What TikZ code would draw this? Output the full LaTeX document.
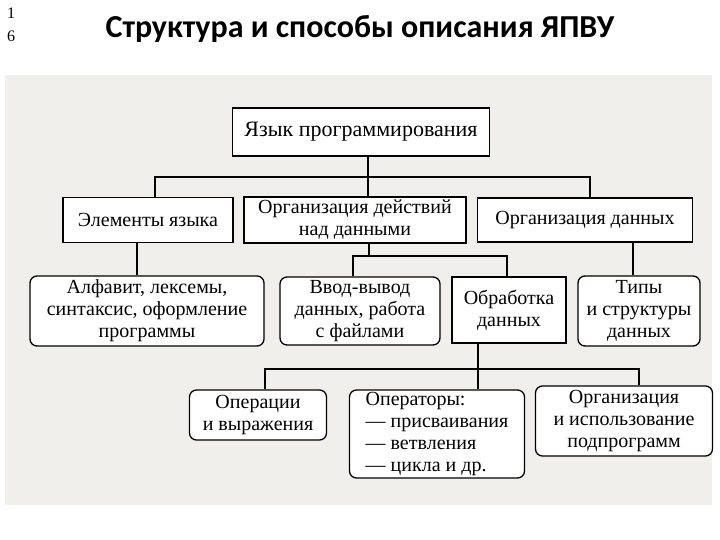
\documentclass[tikz,border=0pt]{standalone}
\usepackage{fontspec}
\setmainfont{Liberation Serif}
\newfontfamily\titlefont{Carlito}
\usepackage{tikz}
\usetikzlibrary{calc}
\usepackage{xcolor}
\definecolor{scan}{RGB}{241,239,236}
\tikzset{
  box/.style={draw, line width=1.3pt, fill=white, align=center, inner sep=0pt,
    font=\fontsize{20}{22}\selectfont},
  rbox/.style={box, rounded corners=7pt},
  link/.style={line width=1.1pt}
}

\begin{document}
\begin{tikzpicture}[x=1pt, y=1pt]
  \def\rowb{-220}
  \def\rowc{-311}
  \def\busa{-177}
  \def\busb{-256}
  \def\busc{-369}

  \useasboundingbox (0, 0) rectangle (720, -540);
  \fill[scan] (5, -75) rectangle (712, -505);

  \node[font=\titlefont\bfseries\fontsize{32}{35}\selectfont] (title) at (360, -29) {Структура и способы описания ЯПВУ};
  \node[font=\fontsize{16}{17}\selectfont] (num1) at (11, -13) {1};
  \node[font=\fontsize{16}{17}\selectfont] (num2) at (11, -36) {6};

  \node[box, minimum width=257, minimum height=48, font=\fontsize{22}{24}\selectfont] (lang) at (361, -132) {Язык программирования};

  \node[box, minimum width=170, minimum height=45] (elem) at (148, \rowb) {Элементы языка};
  \node[box, minimum width=222, minimum height=46] (acts) at (355, \rowb) {Организация действий\\над данными};
  \node[box, minimum width=215, minimum height=44] (data) at (585, \rowb) {Организация данных};

  \node[rbox, minimum width=234, minimum height=70] (alpha) at (147, \rowc) {Алфавит, лексемы,\\синтаксис, оформление\\программы};
  \node[rbox, minimum width=160, minimum height=68] (io) at (360, \rowc) {Ввод-вывод\\данных, работа\\с файлами};
  \node[box, minimum width=114, minimum height=66] (proc) at (509, -310) {Обработка\\данных};
  \node[rbox, minimum width=122, minimum height=70] (types) at (639, \rowc) {Типы\\и структуры\\данных};

  \node[rbox, minimum width=137, minimum height=50] (ops) at (258, -415) {Операции\\и выражения};
  \node[rbox, minimum width=175, minimum height=88, align=left] (stmt) at (437, -434) {Операторы:\\— присваивания\\— ветвления\\— цикла и др.};
  \node[rbox, minimum width=177, minimum height=70] (sub) at (624, -421) {Организация\\и использование\\подпрограмм};

  \coordinate (huba) at (368, \busa);
  \coordinate (hubb) at (369, \busb);
  \coordinate (hubc) at (478, \busc);

  % language -> three groups
  \draw[link] (lang.south -| huba) -- (acts.north -| huba);
  \draw[link] (elem.north -| 155, 0) |- (huba) -| (data.north -| 590, 0);

  % second row -> third row
  \draw[link] (elem.south -| 137, 0) -- (alpha.north -| 137, 0);
  \draw[link] (acts.south -| hubb) -- (hubb);
  \draw[link] (io.north -| 353, 0) |- (hubb) -| (proc.north -| 507, 0);
  \draw[link] (data.south -| 633, 0) -- (types.north -| 633, 0);

  % processing -> fourth row
  \draw[link] (proc.south -| hubc) -- (stmt.north -| hubc);
  \draw[link] (ops.north -| 265, 0) |- (hubc) -| (sub.north -| 639, 0);
\end{tikzpicture}
\end{document}
